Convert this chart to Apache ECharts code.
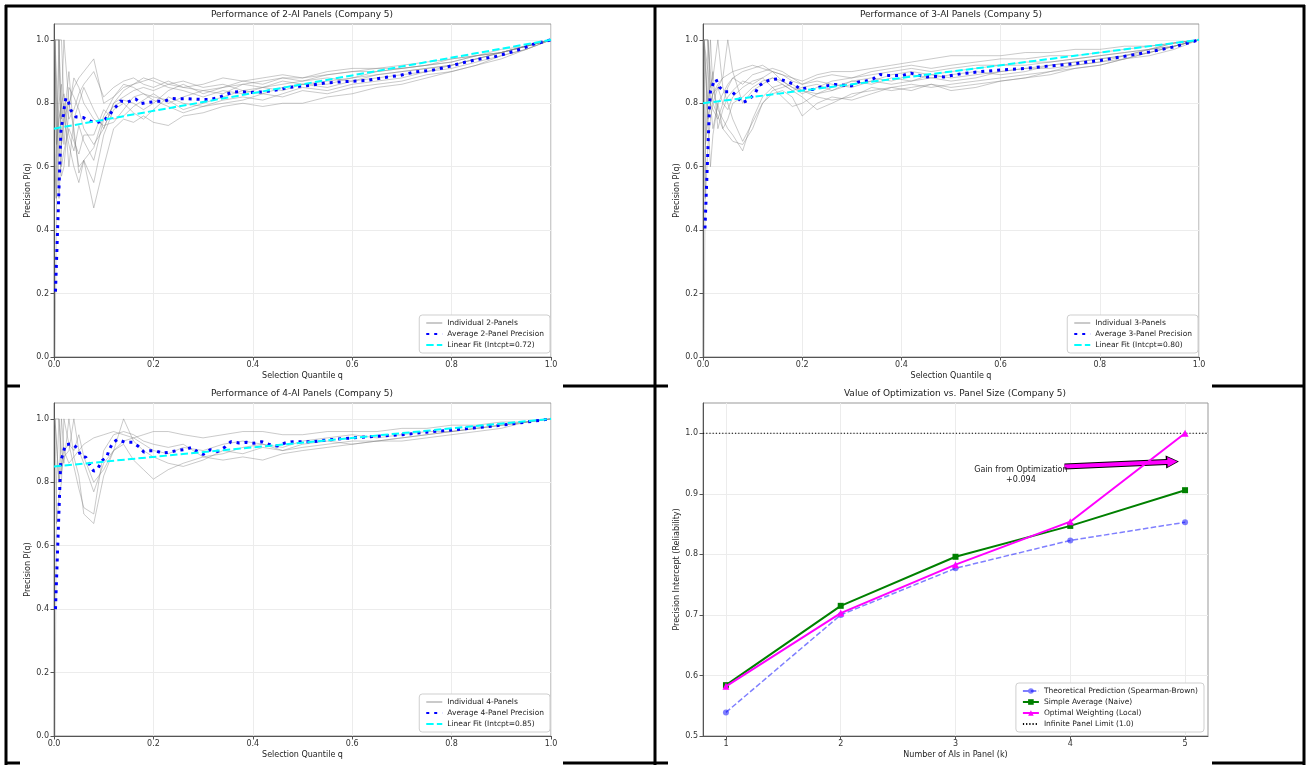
<!DOCTYPE html>
<html><head><meta charset="utf-8">
<script src="https://cdn.jsdelivr.net/npm/echarts@6/dist/echarts.min.js"></script>
<style>html,body{margin:0;padding:0;background:#fff;}#c{width:1307px;height:765px;}</style>
</head><body><div id="c"></div>
<script>
// ---------- tick labels ----------
const Q_TICKS = [0, 0.2, 0.4, 0.6, 0.8, 1.0];
const P_TICKS = [0, 0.2, 0.4, 0.6, 0.8, 1.0];
const K_TICKS = [1, 2, 3, 4, 5];
const R_TICKS = [0.5, 0.6, 0.7, 0.8, 0.9, 1.0];

// ---------- quantile grid for individual panels ----------
const Q_GRID = [0.002,0.005,0.01,0.015,0.02,0.03,0.04,0.05,0.06,0.08,0.1,0.12,0.14,0.16,0.18,0.2,0.23,0.26,0.3,0.34,0.38,0.42,0.46,0.5,0.55,0.6,0.65,0.7,0.75,0.8,0.85,0.9,0.95,1.0];

// ---------- 2-AI panels ----------
const P2_LINE_1 = [0.0,0.5,1.0,0.67,0.75,0.8,0.85,0.88,0.9,0.94,0.8,0.82,0.85,0.86,0.87,0.88,0.86,0.85,0.84,0.85,0.86,0.87,0.88,0.88,0.89,0.9,0.91,0.91,0.92,0.93,0.95,0.96,0.98,1.0];
const P2_LINE_2 = [1.0,1.0,1.0,1.0,0.8,0.6,0.75,0.8,0.85,0.78,0.72,0.8,0.84,0.86,0.88,0.87,0.85,0.84,0.82,0.84,0.83,0.85,0.86,0.87,0.88,0.87,0.89,0.9,0.91,0.92,0.94,0.96,0.98,1.0];
const P2_LINE_3 = [1.0,1.0,0.5,0.67,0.75,0.9,0.7,0.6,0.62,0.55,0.7,0.78,0.8,0.77,0.75,0.78,0.82,0.8,0.79,0.81,0.82,0.81,0.83,0.85,0.84,0.86,0.87,0.88,0.9,0.91,0.93,0.95,0.97,1.0];
const P2_LINE_4 = [1.0,0.5,0.67,0.8,1.0,0.8,0.72,0.58,0.62,0.47,0.6,0.72,0.75,0.74,0.76,0.74,0.73,0.76,0.77,0.79,0.8,0.79,0.8,0.8,0.82,0.83,0.85,0.86,0.88,0.9,0.92,0.94,0.97,1.0];
const P2_LINE_5 = [1.0,1.0,1.0,0.75,0.8,0.7,0.65,0.73,0.68,0.62,0.75,0.79,0.81,0.8,0.78,0.8,0.84,0.86,0.83,0.85,0.87,0.86,0.88,0.87,0.89,0.9,0.9,0.91,0.92,0.94,0.95,0.96,0.98,1.0];
const P2_LINE_6 = [0.5,0.67,1.0,0.6,0.65,0.72,0.68,0.64,0.7,0.7,0.78,0.75,0.76,0.79,0.81,0.83,0.8,0.82,0.84,0.83,0.86,0.85,0.84,0.86,0.85,0.87,0.88,0.89,0.9,0.92,0.94,0.96,0.98,1.0];
const P2_LINE_7 = [1.0,0.67,0.75,0.8,0.67,0.85,0.82,0.78,0.72,0.67,0.72,0.8,0.82,0.84,0.85,0.84,0.86,0.87,0.85,0.86,0.84,0.85,0.87,0.86,0.87,0.88,0.9,0.91,0.92,0.93,0.95,0.96,0.98,1.0];
const P2_LINE_8 = [1.0,1.0,0.67,0.57,0.6,0.78,0.88,0.85,0.8,0.75,0.73,0.74,0.78,0.82,0.83,0.82,0.81,0.78,0.8,0.82,0.84,0.83,0.85,0.86,0.86,0.88,0.89,0.9,0.91,0.92,0.94,0.96,0.98,1.0];
const P2_LINE_9 = [0.5,0.67,0.75,0.8,0.83,0.75,0.78,0.83,0.86,0.9,0.82,0.85,0.87,0.88,0.86,0.85,0.87,0.85,0.86,0.88,0.87,0.88,0.89,0.88,0.9,0.91,0.91,0.92,0.93,0.94,0.95,0.97,0.98,1.0];
const P2_LINE_10 = [1.0,0.67,0.8,0.86,0.75,0.67,0.6,0.55,0.62,0.66,0.76,0.82,0.86,0.85,0.83,0.81,0.79,0.77,0.79,0.8,0.81,0.83,0.82,0.84,0.83,0.85,0.86,0.87,0.89,0.9,0.92,0.95,0.97,1.0];
const AVG2_Q = [0.003,0.014,0.019,0.021,0.024,0.029,0.034,0.044,0.059,0.072,0.087,0.103,0.113,0.123,0.134,0.148,0.164,0.176,0.191,0.206,0.223,0.238,0.254,0.27,0.285,0.299,0.314,0.331,0.345,0.359,0.376,0.391,0.406,0.422,0.438,0.453,0.469,0.484,0.503,0.518,0.532,0.546,0.582,0.629,0.663,0.696,0.726,0.76,0.79,0.82,0.854,0.885,0.911,0.941,0.964,1.0];
const AVG2_P = [0.206,0.715,0.764,0.79,0.817,0.804,0.778,0.757,0.755,0.744,0.739,0.75,0.767,0.786,0.807,0.804,0.814,0.799,0.803,0.806,0.807,0.815,0.814,0.814,0.813,0.812,0.812,0.818,0.827,0.835,0.837,0.834,0.835,0.836,0.84,0.843,0.849,0.852,0.855,0.857,0.861,0.864,0.868,0.872,0.881,0.888,0.899,0.904,0.914,0.927,0.939,0.946,0.957,0.972,0.986,1.0];
const FIT2_INTERCEPT = 0.72, FIT2_SLOPE = 0.28;

// ---------- 3-AI panels ----------
const P3_LINE_1 = [1.0,1.0,1.0,0.8,0.83,0.86,0.88,0.89,0.9,0.91,0.92,0.91,0.9,0.89,0.88,0.87,0.89,0.9,0.9,0.91,0.92,0.93,0.94,0.95,0.95,0.95,0.96,0.96,0.97,0.97,0.98,0.98,0.99,1.0];
const P3_LINE_2 = [1.0,1.0,0.75,0.8,0.72,0.8,0.83,0.86,0.88,0.9,0.91,0.92,0.9,0.87,0.85,0.83,0.85,0.87,0.88,0.9,0.91,0.92,0.91,0.92,0.93,0.94,0.94,0.95,0.95,0.96,0.97,0.98,0.99,1.0];
const P3_LINE_3 = [1.0,0.67,1.0,0.85,0.9,0.72,0.78,0.82,0.84,0.87,0.86,0.88,0.85,0.82,0.79,0.8,0.83,0.84,0.86,0.87,0.86,0.87,0.88,0.87,0.88,0.9,0.91,0.92,0.93,0.94,0.95,0.97,0.98,1.0];
const P3_LINE_4 = [1.0,1.0,0.8,1.0,0.85,0.78,0.75,0.72,0.7,0.65,0.75,0.82,0.85,0.86,0.84,0.82,0.78,0.8,0.83,0.84,0.85,0.86,0.85,0.86,0.87,0.88,0.89,0.9,0.92,0.93,0.94,0.96,0.98,1.0];
const P3_LINE_5 = [0.0,0.67,0.8,0.86,0.88,1.0,0.85,0.8,0.75,0.68,0.74,0.8,0.83,0.84,0.82,0.76,0.8,0.82,0.81,0.83,0.85,0.84,0.86,0.85,0.86,0.87,0.88,0.9,0.91,0.92,0.94,0.96,0.98,1.0];
const P3_LINE_6 = [1.0,1.0,0.9,0.8,0.78,0.75,0.8,0.85,0.88,0.86,0.89,0.9,0.91,0.9,0.88,0.86,0.87,0.86,0.85,0.87,0.89,0.9,0.89,0.9,0.91,0.92,0.92,0.93,0.94,0.95,0.96,0.97,0.99,1.0];
const P3_LINE_7 = [1.0,0.5,0.67,0.75,0.8,0.85,0.88,1.0,0.9,0.8,0.84,0.86,0.88,0.87,0.85,0.84,0.83,0.85,0.87,0.86,0.88,0.87,0.89,0.88,0.89,0.9,0.91,0.91,0.92,0.93,0.95,0.96,0.98,1.0];
const P3_LINE_8 = [1.0,1.0,1.0,0.9,0.8,0.76,0.72,0.7,0.68,0.67,0.72,0.8,0.84,0.85,0.86,0.84,0.82,0.81,0.82,0.85,0.84,0.85,0.86,0.84,0.85,0.87,0.88,0.89,0.91,0.92,0.94,0.95,0.97,1.0];
const P3_LINE_9 = [0.5,0.67,0.75,0.8,0.83,0.85,0.8,0.78,0.82,0.85,0.87,0.88,0.9,0.89,0.87,0.86,0.88,0.89,0.88,0.89,0.9,0.91,0.9,0.91,0.92,0.92,0.93,0.93,0.94,0.95,0.96,0.97,0.99,1.0];
const P3_LINE_10 = [1.0,1.0,0.75,0.6,0.7,0.8,0.72,0.75,0.8,0.82,0.85,0.87,0.88,0.86,0.84,0.85,0.86,0.84,0.87,0.88,0.87,0.89,0.88,0.89,0.9,0.89,0.9,0.92,0.93,0.94,0.95,0.97,0.98,1.0];
const AVG3_Q = [0.004,0.013,0.015,0.021,0.026,0.033,0.044,0.059,0.07,0.079,0.093,0.105,0.112,0.122,0.137,0.153,0.169,0.183,0.196,0.209,0.22,0.236,0.251,0.266,0.283,0.299,0.313,0.328,0.343,0.357,0.373,0.388,0.403,0.419,0.436,0.452,0.468,0.485,0.52,0.56,0.6,0.65,0.7,0.75,0.8,0.85,0.9,0.95,1.0];
const AVG3_P = [0.405,0.788,0.838,0.864,0.876,0.851,0.836,0.836,0.818,0.801,0.812,0.831,0.854,0.865,0.875,0.877,0.869,0.86,0.845,0.848,0.843,0.851,0.855,0.859,0.857,0.855,0.867,0.87,0.877,0.891,0.888,0.888,0.888,0.895,0.888,0.883,0.885,0.883,0.893,0.9,0.905,0.91,0.918,0.925,0.935,0.948,0.962,0.978,1.0];
const FIT3_INTERCEPT = 0.80, FIT3_SLOPE = 0.20;

// ---------- 4-AI panels ----------
const P4_LINE_1 = [1.0,1.0,0.8,1.0,0.9,0.86,0.88,0.9,0.92,0.94,0.95,0.96,0.95,0.94,0.95,0.96,0.96,0.95,0.94,0.95,0.96,0.96,0.95,0.95,0.96,0.96,0.96,0.97,0.97,0.98,0.98,0.99,0.99,1.0];
const P4_LINE_2 = [0.0,0.8,1.0,0.9,0.86,1.0,0.88,0.82,0.7,0.67,0.82,0.9,0.93,0.94,0.92,0.9,0.89,0.91,0.9,0.92,0.93,0.92,0.91,0.93,0.94,0.95,0.94,0.95,0.96,0.96,0.97,0.98,0.99,1.0];
const P4_LINE_3 = [1.0,1.0,1.0,0.83,0.88,0.9,1.0,0.9,0.86,0.77,0.86,0.9,1.0,0.93,0.9,0.88,0.86,0.85,0.87,0.9,0.89,0.91,0.9,0.92,0.93,0.92,0.93,0.94,0.95,0.96,0.97,0.98,0.99,1.0];
const P4_LINE_4 = [1.0,1.0,0.8,0.86,0.9,0.92,0.9,0.95,0.88,0.8,0.84,0.9,0.92,0.87,0.84,0.81,0.84,0.86,0.88,0.87,0.88,0.87,0.89,0.9,0.91,0.92,0.93,0.93,0.94,0.95,0.96,0.97,0.99,1.0];
const P4_LINE_5 = [1.0,0.67,0.75,0.8,1.0,0.92,0.85,0.78,0.72,0.7,0.9,0.95,0.96,0.95,0.93,0.92,0.91,0.92,0.88,0.89,0.91,0.92,0.9,0.91,0.92,0.93,0.93,0.94,0.95,0.96,0.97,0.98,0.99,1.0];
const AVG4_Q = [0.003,0.013,0.014,0.019,0.023,0.036,0.048,0.054,0.064,0.072,0.08,0.089,0.096,0.106,0.111,0.119,0.128,0.143,0.158,0.171,0.181,0.191,0.203,0.218,0.233,0.247,0.262,0.277,0.288,0.3,0.315,0.329,0.344,0.356,0.372,0.388,0.402,0.418,0.434,0.449,0.465,0.481,0.52,0.56,0.6,0.65,0.7,0.75,0.8,0.85,0.9,0.95,1.0];
const AVG4_P = [0.40,0.842,0.868,0.895,0.919,0.921,0.907,0.882,0.879,0.855,0.835,0.845,0.868,0.879,0.903,0.926,0.935,0.926,0.926,0.912,0.895,0.899,0.9,0.892,0.895,0.9,0.903,0.91,0.897,0.888,0.903,0.897,0.911,0.928,0.924,0.926,0.923,0.928,0.919,0.914,0.924,0.928,0.928,0.935,0.94,0.945,0.95,0.958,0.965,0.972,0.98,0.99,1.0];
const FIT4_INTERCEPT = 0.85, FIT4_SLOPE = 0.15;

// ---------- value of optimization ----------
const K_VALUES = [1, 2, 3, 4, 5];
const THEORETICAL = [0.539, 0.700, 0.777, 0.823, 0.853];
const SIMPLE_AVG = [0.584, 0.715, 0.796, 0.847, 0.906];
const OPTIMAL = [0.582, 0.703, 0.783, 0.854, 1.000];
const PANEL_LIMIT = 1.0;
const K_MIN = 0.8, K_MAX = 5.2;
const ANNOT_TEXT_AT = [3.57, 0.932];
const ARROW_FROM = [3.95, 0.945];
const ARROW_TO = [4.89, 0.953];

// ---------- build ----------
const FONT = 'DejaVu Sans';
const chart = echarts.init(document.getElementById('c'), null, {renderer: 'canvas'});

const GRIDS = [
  {left: 54, top: 24, width: 497, height: 333},
  {left: 703, top: 24, width: 496, height: 333},
  {left: 54, top: 403, width: 497, height: 333},
  {left: 703, top: 403, width: 505, height: 333}
];

const axisLineStyle = {color: '#555', width: 1};
const splitStyle = {color: '#ececec', width: 1};
const tickLabel = {fontSize: 8, color: '#333', fontFamily: FONT};
const nameStyle = {fontSize: 8, color: '#222', fontFamily: FONT};

function qAxis(gi) {
  return {type: 'value', gridIndex: gi, min: 0, max: 1, interval: 0.2,
    name: 'Selection Quantile q', nameLocation: 'middle', nameGap: 15, nameTextStyle: nameStyle,
    axisLine: {show: true, onZero: false, lineStyle: axisLineStyle},
    axisTick: {show: true, length: 3.5, lineStyle: axisLineStyle, customValues: Q_TICKS},
    axisLabel: Object.assign({margin: 4, customValues: Q_TICKS, formatter: v => v.toFixed(1)}, tickLabel),
    splitLine: {show: true, lineStyle: splitStyle}};
}
function pAxis(gi) {
  return {type: 'value', gridIndex: gi, min: 0, max: 1.05,
    name: 'Precision P(q)', nameLocation: 'middle', nameGap: 21, nameTextStyle: nameStyle,
    axisLine: {show: true, onZero: false, lineStyle: axisLineStyle},
    axisTick: {show: true, length: 3.5, lineStyle: axisLineStyle, customValues: P_TICKS},
    axisLabel: Object.assign({margin: 5, customValues: P_TICKS, formatter: v => v.toFixed(1)}, tickLabel),
    splitLine: {show: true, lineStyle: splitStyle}};
}

const series = [];
const legends = [];
const legendBase = {orient: 'vertical', selectedMode: false, itemWidth: 16, itemHeight: 7, itemGap: 3,
  padding: [4, 6, 4, 6], backgroundColor: '#fff', borderColor: '#cfcfcf', borderWidth: 1, borderRadius: 3,
  textStyle: {fontSize: 7.5, color: '#222', fontFamily: FONT}};

function panel(gi, n, lines, avgQ, avgP, a, s, legendPos) {
  const indName = 'Individual ' + n + '-Panels';
  const avgName = 'Average ' + n + '-Panel Precision';
  const fitName = 'Linear Fit (Intcpt=' + a.toFixed(2) + ')';
  lines.forEach(line => {
    series.push({type: 'line', name: indName, xAxisIndex: gi, yAxisIndex: gi,
      data: Q_GRID.map((q, i) => [q, line[i]]), symbol: 'none', silent: true, z: 2,
      lineStyle: {color: 'rgba(128,128,128,0.42)', width: 1}, itemStyle: {color: 'rgba(128,128,128,0.42)', opacity: 0}});
  });
  series.push({type: 'line', name: avgName, xAxisIndex: gi, yAxisIndex: gi,
    data: avgQ.map((q, i) => [q, avgP[i]]), symbol: 'none', silent: true, z: 3,
    lineStyle: {color: '#0000ff', width: 3, type: [3, 4.95], cap: 'butt'}, itemStyle: {color: '#0000ff', opacity: 0}});
  series.push({type: 'line', name: fitName, xAxisIndex: gi, yAxisIndex: gi,
    data: [[0, a], [1, a + s]], symbol: 'none', silent: true, z: 4,
    lineStyle: {color: '#00ffff', width: 2, type: [7.4, 3.2]}, itemStyle: {color: '#00ffff', opacity: 0}});
  legends.push(Object.assign({}, legendBase, {data: [indName, avgName, fitName]}, legendPos));
}

panel(0, 2, [P2_LINE_1,P2_LINE_2,P2_LINE_3,P2_LINE_4,P2_LINE_5,P2_LINE_6,P2_LINE_7,P2_LINE_8,P2_LINE_9,P2_LINE_10],
  AVG2_Q, AVG2_P, FIT2_INTERCEPT, FIT2_SLOPE, {right: 757, bottom: 412});
panel(1, 3, [P3_LINE_1,P3_LINE_2,P3_LINE_3,P3_LINE_4,P3_LINE_5,P3_LINE_6,P3_LINE_7,P3_LINE_8,P3_LINE_9,P3_LINE_10],
  AVG3_Q, AVG3_P, FIT3_INTERCEPT, FIT3_SLOPE, {right: 109, bottom: 412});
panel(2, 4, [P4_LINE_1,P4_LINE_2,P4_LINE_3,P4_LINE_4,P4_LINE_5],
  AVG4_Q, AVG4_P, FIT4_INTERCEPT, FIT4_SLOPE, {right: 757, bottom: 33});

// bottom-right panel
const gain = OPTIMAL[OPTIMAL.length - 1] - SIMPLE_AVG[SIMPLE_AVG.length - 1];
series.push({type: 'line', name: 'Theoretical Prediction (Spearman-Brown)', xAxisIndex: 3, yAxisIndex: 3,
  data: K_VALUES.map((k, i) => [k, THEORETICAL[i]]), symbol: 'circle', symbolSize: 6, z: 3,
  lineStyle: {color: 'rgba(0,0,255,0.5)', width: 1.5, type: [5.5, 2.4]}, itemStyle: {color: 'rgba(0,0,255,0.5)'}});
series.push({type: 'line', name: 'Simple Average (Naive)', xAxisIndex: 3, yAxisIndex: 3,
  data: K_VALUES.map((k, i) => [k, SIMPLE_AVG[i]]), symbol: 'rect', symbolSize: 6, z: 4,
  lineStyle: {color: '#008000', width: 2}, itemStyle: {color: '#008000'},
  markLine: {silent: true, symbol: ['none', 'triangle'], symbolSize: 13, label: {show: false},
    lineStyle: {color: '#000', width: 6, type: 'solid'},
    data: [[{coord: ARROW_FROM}, {coord: ARROW_TO}]]}});
series.push({type: 'line', name: 'Optimal Weighting (Local)', xAxisIndex: 3, yAxisIndex: 3,
  data: K_VALUES.map((k, i) => [k, OPTIMAL[i]]), symbol: 'triangle', symbolSize: 7, z: 5,
  lineStyle: {color: '#ff00ff', width: 2}, itemStyle: {color: '#ff00ff'},
  markLine: {silent: true, symbol: ['none', 'triangle'], symbolSize: 10, label: {show: false},
    lineStyle: {color: '#ff00ff', width: 4, type: 'solid'},
    data: [[{coord: ARROW_FROM}, {coord: ARROW_TO}]]},
  markPoint: {silent: true, symbol: 'circle', symbolSize: 0,
    data: [{coord: ANNOT_TEXT_AT, label: {show: true, position: 'inside', align: 'center',
      formatter: 'Gain from Optimization\n+' + gain.toFixed(3), fontSize: 8, lineHeight: 10, color: '#222', fontFamily: FONT}}]}});
series.push({type: 'line', name: 'Infinite Panel Limit (1.0)', xAxisIndex: 3, yAxisIndex: 3,
  data: [[K_MIN, PANEL_LIMIT], [K_MAX, PANEL_LIMIT]], symbol: 'none', z: 2,
  lineStyle: {color: '#000', width: 1.2, type: [1.2, 2]}, itemStyle: {color: '#000', opacity: 0}});
legends.push(Object.assign({}, legendBase, {right: 103, bottom: 33,
  data: ['Theoretical Prediction (Spearman-Brown)', 'Simple Average (Naive)', 'Optimal Weighting (Local)', 'Infinite Panel Limit (1.0)']}));

const titleStyle = {fontSize: 9, color: '#222', fontWeight: 'normal', fontFamily: FONT};
const titles = [
  {text: 'Performance of 2-AI Panels (Company 5)', left: 302, top: 10},
  {text: 'Performance of 3-AI Panels (Company 5)', left: 951, top: 10},
  {text: 'Performance of 4-AI Panels (Company 5)', left: 302, top: 389},
  {text: 'Value of Optimization vs. Panel Size (Company 5)', left: 955, top: 389}
].map(t => Object.assign({textAlign: 'center', textStyle: titleStyle, padding: 0}, t));

const B = 3;
function seg(x1, y1, x2, y2) { return {type: 'line', silent: true, z: 100, shape: {x1, y1, x2, y2}, style: {stroke: '#000', lineWidth: B}}; }

const option = {
  animation: false,
  backgroundColor: '#fff',
  textStyle: {fontFamily: FONT},
  title: titles,
  grid: GRIDS.map(g => Object.assign({show: true, borderColor: '#999', borderWidth: 1, backgroundColor: 'transparent', containLabel: false}, g)),
  xAxis: [qAxis(0), qAxis(1), qAxis(2), {
    type: 'value', gridIndex: 3, min: K_MIN, max: K_MAX,
    name: 'Number of AIs in Panel (k)', nameLocation: 'middle', nameGap: 15, nameTextStyle: nameStyle,
    axisLine: {show: true, onZero: false, lineStyle: axisLineStyle},
    axisTick: {show: true, length: 3.5, lineStyle: axisLineStyle, customValues: K_TICKS},
    axisLabel: Object.assign({margin: 4, customValues: K_TICKS, formatter: v => String(v)}, tickLabel),
    splitLine: {show: true, lineStyle: splitStyle}}],
  yAxis: [pAxis(0), pAxis(1), pAxis(2), {
    type: 'value', gridIndex: 3, min: 0.5, max: 1.05,
    name: 'Precision Intercept (Reliability)', nameLocation: 'middle', nameGap: 21, nameTextStyle: nameStyle,
    axisLine: {show: true, onZero: false, lineStyle: axisLineStyle},
    axisTick: {show: true, length: 3.5, lineStyle: axisLineStyle, customValues: R_TICKS},
    axisLabel: Object.assign({margin: 5, customValues: R_TICKS, formatter: v => v.toFixed(1)}, tickLabel),
    splitLine: {show: true, lineStyle: splitStyle}}],
  legend: legends,
  series: series,
  graphic: [
    seg(5, 6, 1305, 6), seg(6, 5, 6, 765), seg(1304, 5, 1304, 765), seg(655, 5, 655, 765),
    seg(5, 386, 20, 386), seg(563, 386, 668, 386), seg(1212, 386, 1305, 386),
    seg(5, 763, 20, 763), seg(563, 763, 668, 763), seg(1212, 763, 1305, 763)
  ]
};
chart.setOption(option);
</script></body></html>
